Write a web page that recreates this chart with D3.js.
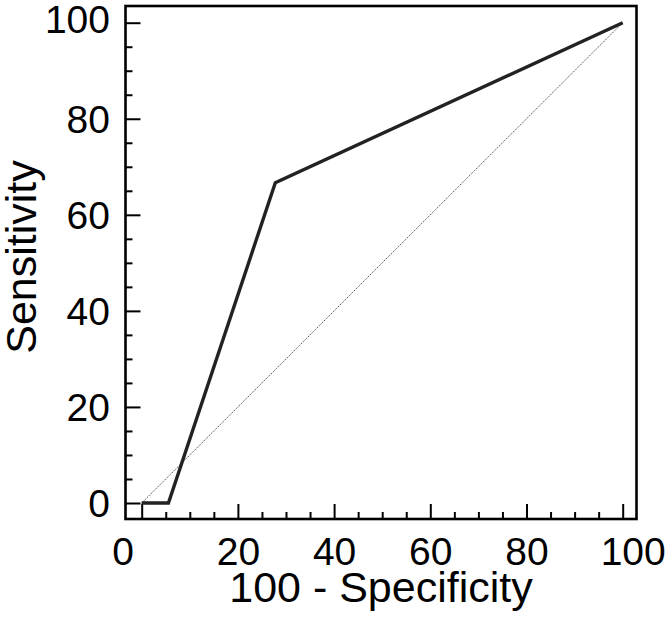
<!DOCTYPE html>
<meta charset="utf-8">
<style>

body {
  margin: 0;
  background: #fff;
}

text {
  font-family: "Liberation Sans", Arial, sans-serif;
  fill: #000;
}

.tick line {
  stroke: #000;
  stroke-width: 2px;
}

</style>
<body>
<script src="https://cdn.jsdelivr.net/npm/d3@7"></script>
<script>

// ROC curve points (100 - specificity, sensitivity)
var fpr = [0, 5.56, 27.78, 100],
    sens = [0, 0, 66.67, 100];

// reference diagonal
var diagX = [0, 100],
    diagY = [0, 100];

var xTicks = [0, 20, 40, 60, 80, 100],
    yTicks = [0, 20, 40, 60, 80, 100],
    minorTicks = d3.range(5, 100, 5).filter(function(d) { return d % 20; });

var xTitle = "100 - Specificity",
    yTitle = "Sensitivity";

var w = 668,
    h = 630;

var x = d3.scaleLinear().domain([0, 100]).range([141.7, 622.7]),
    y = d3.scaleLinear().domain([0, 100]).range([503, 22.7]);

// frame edges in data units
var x0 = x.invert(125.5), x1 = x.invert(636.5),
    y0 = y.invert(519), y1 = y.invert(6);

var svg = d3.select("body").append("svg")
    .attr("width", w)
    .attr("height", h);

svg.append("rect")
    .attr("x", x(x0))
    .attr("y", y(y1))
    .attr("width", x(x1) - x(x0))
    .attr("height", y(y0) - y(y1))
    .style("fill", "none")
    .style("stroke", "#000")
    .style("stroke-width", 2.6);

var bottom = svg.append("g")
    .attr("transform", "translate(0," + y(y0) + ")")
    .call(d3.axisBottom(x).tickValues(xTicks).tickSize(-15).tickPadding(18.5));

bottom.selectAll("text")
    .style("font-size", "39px")
    .attr("dx", function(d) { return d === 0 ? -19 : d === 100 ? 10 : 0; });

svg.append("g")
    .attr("transform", "translate(0," + y(y0) + ")")
    .call(d3.axisBottom(x).tickValues(minorTicks).tickSize(-7).tickFormat(""));

var left = svg.append("g")
    .attr("transform", "translate(" + x(x0) + ",0)")
    .call(d3.axisLeft(y).tickValues(yTicks).tickSize(-15).tickPadding(15.5));

left.selectAll("text")
    .style("font-size", "39px")
    .attr("dy", function(d) { return d === 100 ? "0.24em" : "0.34em"; });

svg.append("g")
    .attr("transform", "translate(" + x(x0) + ",0)")
    .call(d3.axisLeft(y).tickValues(minorTicks).tickSize(-7).tickFormat(""));

svg.selectAll(".domain").remove();

svg.append("path")
    .datum(d3.zip(diagX, diagY))
    .attr("d", d3.line().x(function(d) { return x(d[0]); }).y(function(d) { return y(d[1]); }))
    .style("fill", "none")
    .style("stroke", "#555")
    .style("stroke-width", 1)
    .style("stroke-dasharray", "1.5,1");

svg.append("path")
    .datum(d3.zip(fpr, sens))
    .attr("d", d3.line().x(function(d) { return x(d[0]); }).y(function(d) { return y(d[1]); }))
    .style("fill", "none")
    .style("stroke", "#222")
    .style("stroke-width", 3.4)
    .style("stroke-linejoin", "miter");

svg.append("text")
    .attr("x", (x(x0) + x(x1)) / 2)
    .attr("y", 602)
    .attr("text-anchor", "middle")
    .style("font-size", "43px")
    .text(xTitle);

svg.append("text")
    .attr("transform", "translate(36,257) rotate(-90)")
    .attr("text-anchor", "middle")
    .style("font-size", "43px")
    .text(yTitle);

</script>
